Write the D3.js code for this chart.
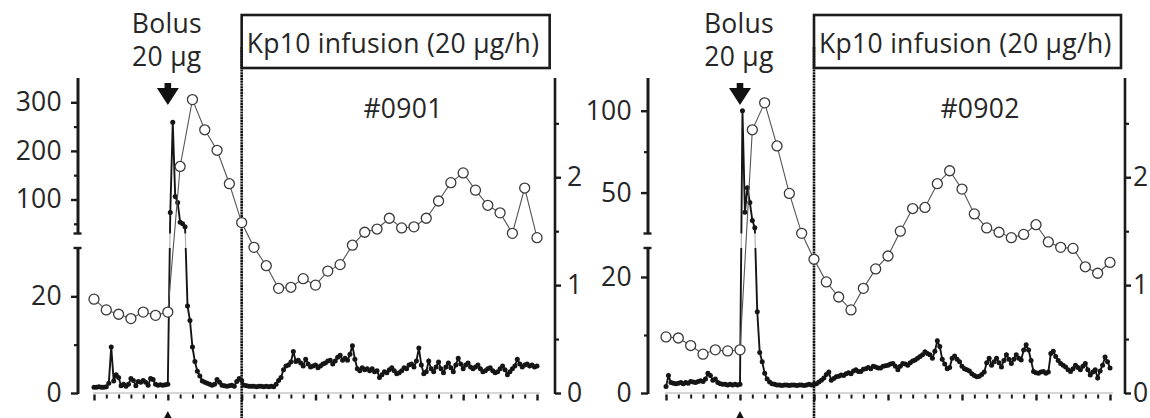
<!DOCTYPE html>
<html>
<head>
<meta charset="utf-8">
<script src="https://cdn.jsdelivr.net/npm/d3@7"></script>
<style>
  html, body { margin: 0; padding: 0; background: #fff; overflow: hidden; }
  svg { display: block; }
  text { font-family: "Open Sans", "Noto Sans", sans-serif; fill: #262626; letter-spacing: 0.3px; }
</style>
</head>
<body>
<svg id="chart" width="1150" height="418"></svg>
<script>
// ---- time grids (minutes relative to the bolus) ----
const traceMinutes = d3.range(-60, 301, 2);     // dense trace, every 2 min
const sampleMinutes = d3.range(-60, 301, 10);   // open-circle samples, every 10 min
const xTickMinutes = d3.range(-60, 301, 10);

// ---- dense trace, left (broken) axis ----
const trace0901 = [
  1.2, 1.2, 1.3, 1.2, 1.2, 1.3, 2.0, 9.5, 2.5, 3.8,
  3.2, 1.5, 1.8, 1.4, 1.8, 3.0, 2.6, 1.5, 2.4, 2.2,
  2.6, 2.2, 1.6, 3.0, 2.8, 1.8, 1.6, 1.7, 1.6, 1.7,
  1.8, 73, 259, 106, 94, 53, 50, 44, 18, 15,
  9.5, 6.5, 4.5, 3.5, 2.5, 2.2, 2.0, 1.8, 1.6, 1.8,
  2.8, 2.2, 1.6, 1.5, 1.4, 1.5, 1.6, 1.4, 2.4, 3.0,
  2.6, 1.6, 1.5, 1.4, 1.4, 1.4, 1.3, 1.4, 1.4, 1.3,
  1.4, 1.3, 1.4, 1.3, 1.8, 2.6, 3.2, 4.8, 5.6, 5.8,
  6.4, 8.6, 6.5, 6.8, 6.2, 5.6, 7.0, 6.0, 5.4, 5.6,
  5.8, 5.2, 5.6, 6.0, 6.2, 6.6, 6.8, 6.0, 6.6, 7.4,
  7.8, 6.8, 7.2, 6.8, 8.0, 9.8, 7.0, 5.0, 4.6, 5.2,
  4.8, 5.0, 4.6, 5.0, 4.4, 4.6, 3.2, 3.8, 4.4, 4.2,
  4.8, 5.2, 4.6, 4.0, 4.2, 4.6, 5.2, 5.0, 5.8, 6.0,
  5.4, 6.6, 9.3, 5.8, 4.0, 4.4, 6.6, 5.0, 4.4, 5.4,
  6.4, 5.0, 4.2, 5.4, 6.2, 5.2, 4.4, 5.8, 7.2, 6.0,
  5.0, 5.8, 6.2, 5.4, 5.0, 5.4, 5.8, 5.0, 4.4, 4.6,
  5.0, 5.2, 4.6, 4.2, 4.4, 5.0, 5.6, 4.8, 3.8, 4.4,
  5.0, 5.6, 7.0, 6.0, 5.4, 5.8, 6.0, 5.6, 5.8, 5.4,
  5.6
];
const trace0902 = [
  1.1, 3.0, 1.8, 1.7, 1.6, 1.7, 1.8, 1.6, 1.8, 1.7,
  2.0, 1.9, 1.8, 2.0, 2.1, 2.0, 2.4, 3.4, 3.0, 2.2,
  2.4, 1.8, 1.6, 1.5, 1.5, 1.4, 1.5, 1.4, 1.5, 1.4,
  1.5, 100, 38, 53, 44, 33, 28.5, 14, 7, 5.4,
  3.4, 2.4, 1.9, 1.6, 1.5, 1.4, 1.4, 1.3, 1.4, 1.4,
  1.3, 1.4, 1.4, 1.3, 1.4, 1.4, 1.3, 1.4, 1.5, 1.4,
  1.5, 1.6, 1.9, 2.2, 2.6, 3.2, 3.6, 2.2, 2.5, 2.8,
  2.9, 3.1, 3.0, 3.3, 3.5, 3.3, 3.8, 4.0, 3.7, 3.7,
  4.1, 4.2, 4.4, 4.2, 4.6, 4.5, 4.3, 4.3, 4.6, 4.7,
  4.8, 5.0, 5.1, 4.6, 4.0, 4.6, 5.1, 5.0, 4.8, 5.2,
  5.5, 5.7, 6.0, 6.3, 6.6, 7.1, 6.8, 6.6, 6.0, 7.2,
  9.0, 8.0, 5.8, 5.0, 4.2, 4.4, 6.0, 6.4, 5.8, 5.4,
  4.6, 4.2, 4.0, 3.8, 3.3, 3.0, 2.8, 2.9, 3.2, 3.6,
  5.2, 6.0, 4.8, 5.4, 6.0, 5.2, 4.5, 5.6, 6.6, 5.8,
  5.1, 5.8, 6.6, 6.0, 5.7, 7.4, 8.3, 7.4, 5.6, 3.7,
  3.5, 3.4, 3.6, 3.7, 3.4, 3.6, 6.8, 7.2, 6.3, 5.6,
  5.1, 4.8, 4.5, 4.0, 3.7, 4.2, 4.8, 4.4, 4.0, 4.6,
  5.1, 4.0, 3.1, 3.6, 4.0, 2.6, 3.8, 4.8, 6.2, 5.4,
  4.3
];

// ---- 10-min samples, right axis ----
const samples0901 = [
  0.87, 0.77, 0.73, 0.69, 0.75, 0.72, 0.75,
  2.10, 2.72, 2.44, 2.25, 1.94, 1.58, 1.35, 1.18, 0.97, 0.98,
  1.06, 1.00, 1.13, 1.19, 1.37, 1.49, 1.52, 1.62, 1.53, 1.54,
  1.62, 1.78, 1.95, 2.04, 1.88, 1.74, 1.67, 1.48, 1.90, 1.44
];
const samples0902 = [
  0.52, 0.51, 0.44, 0.36, 0.40, 0.39, 0.40,
  2.44, 2.69, 2.29, 1.85, 1.48, 1.24, 1.03, 0.89, 0.77, 0.97,
  1.15, 1.27, 1.50, 1.71, 1.72, 1.94, 2.06, 1.89, 1.66, 1.53,
  1.49, 1.44, 1.47, 1.56, 1.40, 1.35, 1.34, 1.17, 1.11, 1.21
];

// ---- tick values and labels ----
const upperTicks0901 = [100, 200, 300];
const upperMinor0901 = [50, 150, 250];
const upperTicks0902 = [50, 100];
const upperMinor0902 = [75];
const lowerTicks = [0, 20];
const lowerMinor = [10];
const rightTicks = [0, 1, 2];
const rightMinor = [0.5, 1.5, 2.5];
const panelNames = ["#0901", "#0902"];
const bolusLabel = ["Bolus", "20 μg"];
const infusionLabel = "Kp10 infusion (20 μg/h)";

// ---- layout ----
const Y0 = 393, LOW_TOP = 248, UP_BOTTOM = 233.5, TOP = 78;
const FONT = 26.5;
const ink = "#1a1a1a";

const svg = d3.select("#chart");

const panels = [
  { name: panelNames[0], trace: trace0901, samples: samples0901,
    xRange: [94, 537], leftX: 78, rightX: 555, rightPad: 6,
    lowDomain: [0, 30], upDomain: [30, 350],
    upTicks: upperTicks0901, upMinor: upperMinor0901,
    titleX: 403, boxW: 308, id: "p1" },
  { name: panelNames[1], trace: trace0902, samples: samples0902,
    xRange: [666, 1110], leftX: 648, rightX: 1125, rightPad: 2,
    lowDomain: [0, 25], upDomain: [25, 120],
    upTicks: upperTicks0902, upMinor: upperMinor0902,
    titleX: 980, boxW: 307, id: "p2" }
];

function styleAxis(sel, width) {
  sel.select(".domain").remove();
  sel.selectAll(".tick line").attr("stroke", ink).attr("stroke-width", width);
  sel.selectAll(".tick text")
    .style("font-size", FONT + "px")
    .attr("fill", "#262626");
}

function drawPanel(p) {
  const g = svg.append("g");
  const x = d3.scaleLinear().domain([-60, 300]).range(p.xRange);
  const yLow = d3.scaleLinear().domain(p.lowDomain).range([Y0, LOW_TOP]);
  const yUp = d3.scaleLinear().domain(p.upDomain).range([UP_BOTTOM, TOP]);
  const yL = v => (v <= p.lowDomain[1] ? yLow(v) : yUp(v));
  const yR = d3.scaleLinear().domain([0, 2.92]).range([Y0, TOP]);

  // clip regions: outside the axis break / inside it
  const defs = svg.append("defs");
  const outside = defs.append("clipPath").attr("id", p.id + "-out");
  outside.append("rect").attr("x", 0).attr("y", 0).attr("width", 1150).attr("height", UP_BOTTOM);
  outside.append("rect").attr("x", 0).attr("y", LOW_TOP).attr("width", 1150).attr("height", 418 - LOW_TOP);
  defs.append("clipPath").attr("id", p.id + "-gap")
    .append("rect").attr("x", 0).attr("y", UP_BOTTOM).attr("width", 1150).attr("height", LOW_TOP - UP_BOTTOM);

  // light baseline at zero
  g.append("line")
    .attr("x1", x(-60) - 1).attr("x2", x(300) + 3)
    .attr("y1", Y0).attr("y2", Y0)
    .attr("stroke", "#c8c8c8").attr("stroke-width", 1.6);

  // time ticks
  const xa = g.append("g").attr("transform", `translate(0,${Y0 + 1.5})`)
    .call(d3.axisBottom(x).tickValues(xTickMinutes).tickSize(4).tickFormat(""));
  xa.select(".domain").remove();
  xa.selectAll(".tick line")
    .attr("stroke", ink)
    .attr("stroke-width", d => (d % 60 === 0 ? 2.4 : 2))
    .attr("y2", d => (d % 60 === 0 ? 6 : 4));

  // infusion start: dotted vertical line
  g.append("line")
    .attr("x1", x(60)).attr("x2", x(60))
    .attr("y1", 47).attr("y2", 418)
    .attr("stroke", "#111").attr("stroke-width", 2.6)
    .attr("stroke-dasharray", "2.2,0.6");

  // infusion box
  g.append("rect")
    .attr("x", x(60)).attr("y", 15)
    .attr("width", p.boxW).attr("height", 53)
    .attr("fill", "none").attr("stroke", ink).attr("stroke-width", 2.6);
  g.append("text")
    .attr("x", x(60) + 5).attr("y", 53)
    .style("font-size", FONT + "px")
    .text(infusionLabel);

  // panel name
  g.append("text")
    .attr("x", p.titleX).attr("y", 118)
    .attr("text-anchor", "middle")
    .style("font-size", FONT + "px")
    .text(p.name);

  // bolus label + arrow
  g.selectAll("text.bolus").data(bolusLabel).join("text")
    .attr("class", "bolus")
    .attr("x", x(0) - 1).attr("y", (d, i) => 33 + i * 33)
    .attr("text-anchor", "middle")
    .style("font-size", FONT + "px")
    .text(d => d);
  const bx = x(0);
  g.append("path")
    .attr("d", `M${bx - 3.3},83 H${bx + 3.3} V88 H${bx + 11} L${bx},105 L${bx - 11},88 H${bx - 3.3} Z`)
    .attr("fill", "#111");
  g.append("path")
    .attr("d", `M${bx},411 L${bx + 8},426 L${bx - 8},426 Z`)
    .attr("fill", "#111");

  // left axis, two segments around the break
  const la = g.append("g").attr("transform", `translate(${p.leftX},0)`);
  la.append("line").attr("x1", 0).attr("x2", 0).attr("y1", Y0 + 1).attr("y2", LOW_TOP)
    .attr("stroke", ink).attr("stroke-width", 3);
  la.append("line").attr("x1", 0).attr("x2", 0).attr("y1", UP_BOTTOM).attr("y2", TOP)
    .attr("stroke", ink).attr("stroke-width", 3);
  [LOW_TOP, UP_BOTTOM].forEach(yy => {
    la.append("line").attr("x1", -4.5).attr("x2", 3.5).attr("y1", yy).attr("y2", yy)
      .attr("stroke", ink).attr("stroke-width", 2.4);
  });
  const lowMaj = la.append("g").call(d3.axisLeft(yLow).tickValues(lowerTicks).tickSize(7).tickPadding(9));
  styleAxis(lowMaj, 2.4);
  const lowMin = la.append("g").call(d3.axisLeft(yLow).tickValues(lowerMinor).tickSize(4).tickFormat(""));
  styleAxis(lowMin, 2.2);
  const upMaj = la.append("g").call(d3.axisLeft(yUp).tickValues(p.upTicks).tickSize(7).tickPadding(9));
  styleAxis(upMaj, 2.4);
  const upMin = la.append("g").call(d3.axisLeft(yUp).tickValues(p.upMinor).tickSize(4).tickFormat(""));
  styleAxis(upMin, 2.2);

  // right axis
  const ra = g.append("g").attr("transform", `translate(${p.rightX},0)`);
  ra.append("line").attr("x1", 0).attr("x2", 0).attr("y1", Y0 + 1).attr("y2", TOP)
    .attr("stroke", ink).attr("stroke-width", 2.6);
  const rMaj = ra.append("g").call(
    d3.axisRight(yR).tickValues(rightTicks).tickSize(6).tickPadding(p.rightPad).tickFormat(d3.format("d")));
  styleAxis(rMaj, 2.4);
  const rMin = ra.append("g").call(d3.axisRight(yR).tickValues(rightMinor).tickSize(4).tickFormat(""));
  styleAxis(rMin, 2.2);

  // dense trace
  const tracePts = p.trace.map((v, i) => [traceMinutes[i], v]);
  const traceLine = d3.line().x(d => x(d[0])).y(d => yL(d[1]));
  g.append("path").datum(tracePts)
    .attr("clip-path", `url(#${p.id}-gap)`)
    .attr("d", traceLine)
    .attr("fill", "none").attr("stroke", "#a8a8a8").attr("stroke-width", 1.1);
  const tg = g.append("g").attr("clip-path", `url(#${p.id}-out)`);
  tg.append("path").datum(tracePts)
    .attr("d", traceLine)
    .attr("fill", "none").attr("stroke", "#151515").attr("stroke-width", 1.9);
  tg.selectAll("circle").data(tracePts).join("circle")
    .attr("cx", d => x(d[0])).attr("cy", d => yL(d[1]))
    .attr("r", 2.5).attr("fill", "#151515");

  // 10-min samples
  const samplePts = p.samples.map((v, i) => [sampleMinutes[i], v]);
  g.append("path").datum(samplePts)
    .attr("d", d3.line().x(d => x(d[0])).y(d => yR(d[1])))
    .attr("fill", "none").attr("stroke", "#555").attr("stroke-width", 1.1);
  g.selectAll("circle.s").data(samplePts).join("circle")
    .attr("class", "s")
    .attr("cx", d => x(d[0])).attr("cy", d => yR(d[1]))
    .attr("r", 5)
    .attr("fill", "#fff").attr("stroke", "#3a3a3a").attr("stroke-width", 1.3);
}

panels.forEach(drawPanel);
</script>
</body>
</html>
